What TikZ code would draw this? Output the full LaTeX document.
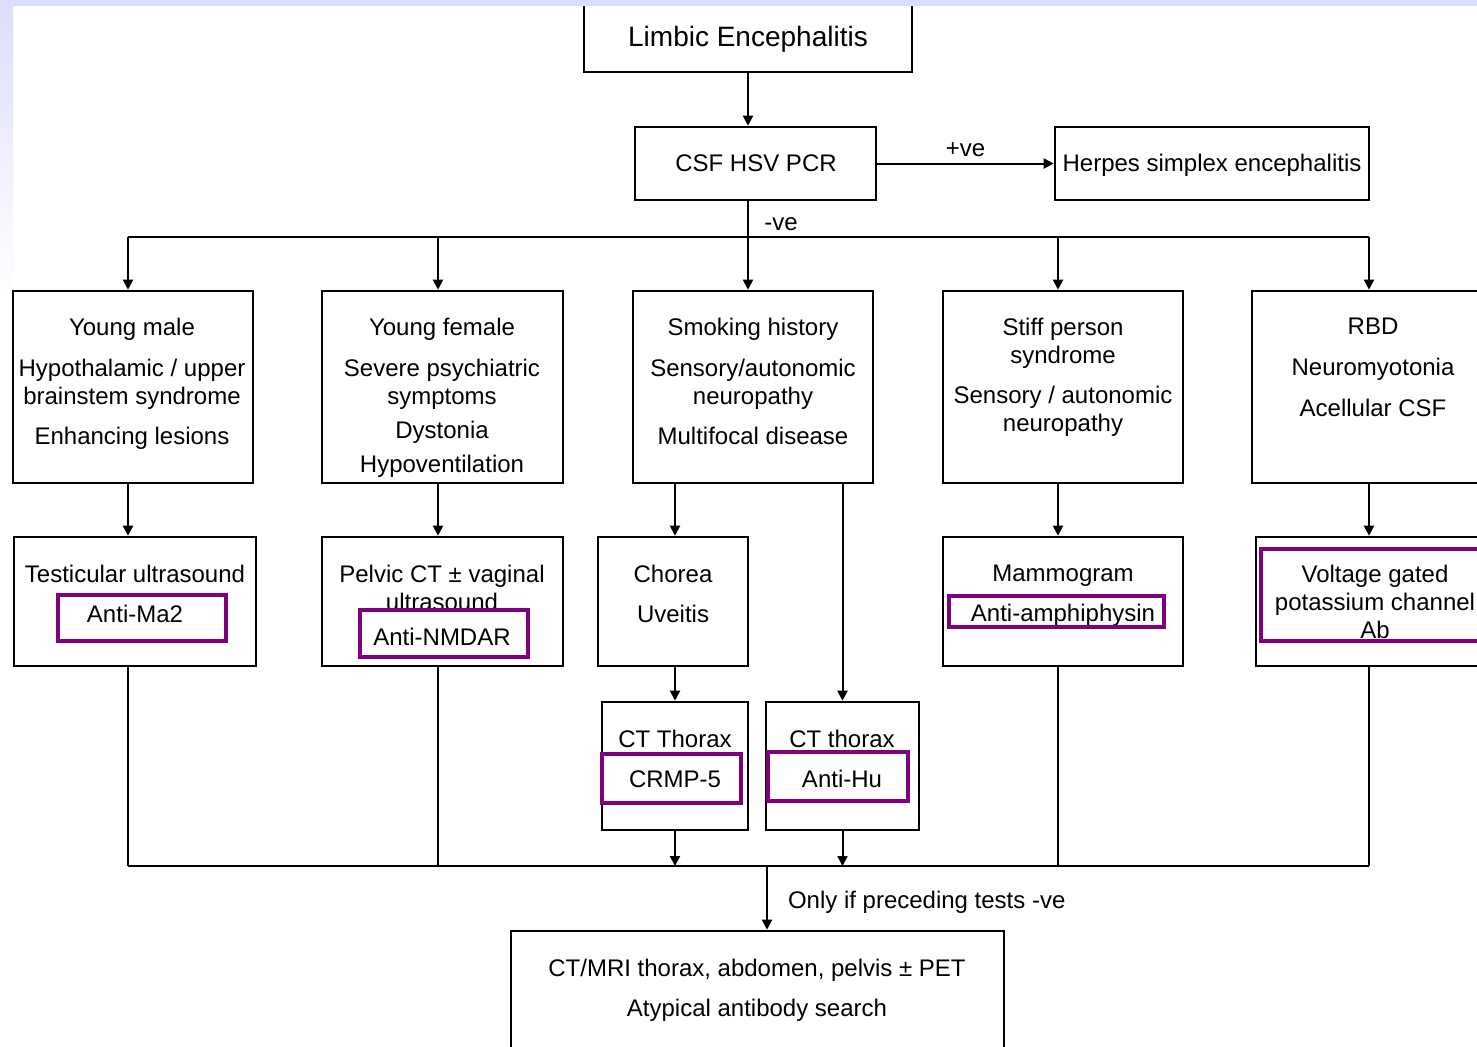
\documentclass[tikz,border=0pt]{standalone}
\usepackage{fontspec}
\setmainfont{Liberation Sans}
\usetikzlibrary{fit,positioning,calc,arrows.meta}
\definecolor{abpurple}{RGB}{128,0,128}
\definecolor{lavender}{RGB}{221,221,252}

\begin{document}
\begin{tikzpicture}[x=0.5pt,y=-0.5pt,
  box/.style={draw, line width=1.3pt, inner sep=0pt},
  abbox/.style={draw=abpurple, line width=2.2pt, inner sep=0pt},
  txt/.style={align=center, inner sep=0pt, anchor=north, font=\fontsize{12}{14}\selectfont},
  lbl/.style={inner sep=0pt, font=\fontsize{12}{14}\selectfont},
  line/.style={line width=1pt},
  >={Triangle[length=5pt,width=5pt]}]
    \useasboundingbox (0,0) rectangle (1477,1046);
    \fill[white] (0,0) rectangle (1477,1046);
    \shade[top color=lavender, bottom color=white] (0,0) rectangle (13,300);

    % top of the chart
    \node[box, fit={(584,-10) (912,72)}] (limbic) {};
    \node[lbl, anchor=base, font=\fontsize{14}{16}\selectfont] (limbictxt) at (748,46) {Limbic Encephalitis};
    \node[box, fit={(635,127) (876,200)}] (csf) {};
    \node[lbl, anchor=base] (csftxt) at (756,171) {CSF HSV PCR};
    \node[box, fit={(1055,127) (1369,200)}] (herpes) {};
    \node[lbl, anchor=base] (herpestxt) at (1212,171) {Herpes simplex encephalitis};

    % clinical pictures
    \node[box, fit={(13,291) (253,483)}] (ym) {};
    \node[txt] (ymtxt) at (132,317.5) {Young male\\[6.5pt]Hypothalamic / upper\\brainstem syndrome\\[6pt]Enhancing lesions};
    \node[box, fit={(322,291) (563,483)}] (yf) {};
    \node[txt] (yftxt) at (442,317.5) {Young female\\[6.5pt]Severe psychiatric\\symptoms\\[3pt]Dystonia\\[3pt]Hypoventilation};
    \node[box, fit={(633,291) (873,483)}] (smk) {};
    \node[txt] (smktxt) at (753,317.5) {Smoking history\\[6.5pt]Sensory/autonomic\\neuropathy\\[6pt]Multifocal disease};
    \node[box, fit={(943,291) (1183,483)}] (spn) {};
    \node[txt] (spntxt) at (1063,317.5) {Stiff person\\syndrome\\[6pt]Sensory / autonomic\\neuropathy};
    \node[box, fit={(1252,291) (1500,483)}] (rbd) {};
    \node[txt] (rbdtxt) at (1373,317.5) {RBD\\[6.5pt]Neuromyotonia\\[6.5pt]Acellular CSF};

    % investigations
    \node[box, fit={(14,537) (256,666)}] (tus) {};
    \node[txt] (tustxt) at (135,564.5) {Testicular ultrasound\\[6pt]Anti-Ma2};
    \node[box, fit={(322,537) (563,666)}] (pct) {};
    \node[txt] (pcttxt) at (442,564.5) {Pelvic CT ± vaginal\\ultrasound\\[3.5pt]Anti-NMDAR};
    \node[box, fit={(598,537) (748,666)}] (cho) {};
    \node[txt] (chotxt) at (673,564.5) {Chorea\\[6pt]Uveitis};
    \node[box, fit={(943,537) (1183,666)}] (mam) {};
    \node[txt] (mamtxt) at (1063,564.5) {Mammogram\\[6pt]Anti-amphiphysin};
    \node[box, fit={(1256,537) (1500,666)}] (vgk) {};
    \node[txt] (vgktxt) at (1375,564.5) {Voltage gated\\potassium channel\\Ab};
    \node[box, fit={(602,702) (748,830)}] (cta) {};
    \node[txt] (ctatxt) at (675,729.5) {CT Thorax\\[6pt]CRMP-5};
    \node[box, fit={(766,702) (919,830)}] (ctb) {};
    \node[txt] (ctbtxt) at (842,729.5) {CT thorax\\[6pt]Anti-Hu};
    \node[box, fit={(511,931) (1004,1080)}] (final) {};
    \node[txt] (finaltxt) at (757,958.5) {CT/MRI thorax, abdomen, pelvis ± PET\\[6pt]Atypical antibody search};

    % antibodies
    \node[abbox, fit={(58,595) (226,641)}] (ma2) {};
    \node[abbox, fit={(360,610) (528,657)}] (nmdar) {};
    \node[abbox, fit={(949,596) (1164,627)}] (amph) {};
    \node[abbox, fit={(1261,549) (1500,641)}] (vgkc) {};
    \node[abbox, fit={(602,754) (741,803)}] (crmp) {};
    \node[abbox, fit={(768,752) (908,801)}] (hu) {};

    % connectors
    \coordinate (colA) at (128,237);
    \coordinate (colB) at (438,237);
    \coordinate (colC) at (748,237);
    \coordinate (colD) at (1058,237);
    \coordinate (colE) at (1369,237);
    \coordinate (joinA) at (128,866);
    \coordinate (joinM) at (767,866);
    \coordinate (joinE) at (1369,866);

    \draw[line,->] (limbic.south) -- (limbic.south |- csf.north);
    \draw[line,->] (csf.east) -- node[lbl, above=3pt] (posl) {+ve} (herpes.west);
    \draw[line] (colC |- csf.south) -- (colC);
    \node[lbl, anchor=west] (negl) at (764,224) {-ve};
    \draw[line] (colA) -- (colE);
    \foreach \c/\b in {colA/ym, colB/yf, colC/smk, colD/spn, colE/rbd}
        \draw[line,->] (\c) -- (\c |- \b.north);
    \foreach \c/\a/\b in {colA/ym/tus, colB/yf/pct, colD/spn/mam, colE/rbd/vgk}
        \draw[line,->] (\c |- \a.south) -- (\c |- \b.north);
    \draw[line,->] (cta.north |- smk.south) -- (cta.north |- cho.north);
    \draw[line,->] (ctb.north |- smk.south) -- (ctb.north);
    \draw[line,->] (cta.north |- cho.south) -- (cta.north);

    \draw[line] (joinA) -- (joinE);
    \foreach \c/\b in {colA/tus, colB/pct, colD/mam, colE/vgk}
        \draw[line] (\c |- \b.south) -- (\c |- joinA);
    \draw[line,->] (cta.south) -- (cta.south |- joinA);
    \draw[line,->] (ctb.south) -- (ctb.south |- joinA);
    \draw[line,->] (joinM) -- node[lbl, right=10pt, yshift=-2pt] (only) {Only if preceding tests -ve} (joinM |- final.north);

    \fill[lavender] (0,0) rectangle (1477,6);
\end{tikzpicture}
\end{document}
